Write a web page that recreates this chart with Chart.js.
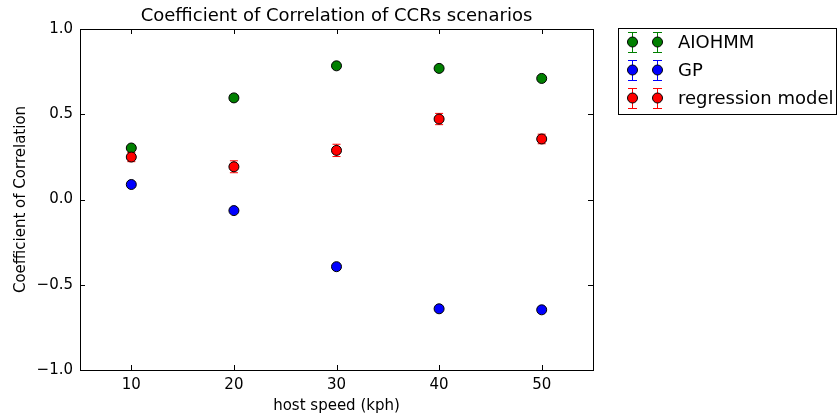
<!DOCTYPE html>
<html>
<head>
<meta charset="utf-8">
<script src="https://cdn.jsdelivr.net/npm/chart.js@4"></script>
<style>
  html, body { margin: 0; padding: 0; background: #fff; }
  #wrap { width: 838px; height: 419px; }
</style>
</head>
<body>
<div id="wrap"><canvas id="chart" width="838" height="419"></canvas></div>
<script>
// host speed (kph)
const speeds = [10, 20, 30, 40, 50];
const xTicks = [10, 20, 30, 40, 50];
const yTicks = [-1.0, -0.5, 0.0, 0.5, 1.0];

// correlation per model
const aiohmm = [0.302, 0.596, 0.784, 0.769, 0.710];
const aiohmmErr = [0.005, 0.005, 0.005, 0.005, 0.005];
const gp = [0.088, -0.065, -0.394, -0.641, -0.647];
const gpErr = [0.005, 0.005, 0.005, 0.005, 0.005];
const regression = [0.249, 0.192, 0.288, 0.472, 0.355];
const regressionErr = [0.027, 0.035, 0.036, 0.033, 0.028];

const seriesNames = ['AIOHMM', 'GP', 'regression model'];
const seriesColors = ['#008000', '#0000ff', '#ff0000'];

const FONT = "'DejaVu Sans', sans-serif";

function toPoints(values) {
    return speeds.map((s, i) => ({ x: s, y: values[i] }));
}

function fmtTick(v) {
    return v.toFixed(1).replace('-', '\u2212');
}

// error bars, frame, inside ticks, titles and legend
const decorations = {
    id: 'decorations',
    beforeDatasetsDraw(chart) {
        const ctx = chart.ctx;
        const yScale = chart.scales.y;
        const errs = [aiohmmErr, gpErr, regressionErr];
        chart.data.datasets.forEach((ds, di) => {
            const meta = chart.getDatasetMeta(di);
            ctx.save();
            ctx.strokeStyle = ds.backgroundColor;
            ctx.lineWidth = 1;
            meta.data.forEach((pt, i) => {
                const v = ds.data[i].y;
                const e = errs[di][i];
                const yTop = yScale.getPixelForValue(v + e);
                const yBot = yScale.getPixelForValue(v - e);
                ctx.beginPath();
                ctx.moveTo(pt.x, yTop);
                ctx.lineTo(pt.x, yBot);
                ctx.moveTo(pt.x - 4, yTop);
                ctx.lineTo(pt.x + 4, yTop);
                ctx.moveTo(pt.x - 4, yBot);
                ctx.lineTo(pt.x + 4, yBot);
                ctx.stroke();
            });
            ctx.restore();
        });
    },
    afterDraw(chart) {
        const ctx = chart.ctx;
        const area = chart.chartArea;
        const xs = chart.scales.x;
        const ys = chart.scales.y;
        ctx.save();
        ctx.strokeStyle = '#000';
        ctx.lineWidth = 1;
        // frame
        ctx.strokeRect(Math.round(area.left) + 0.5, Math.round(area.top) + 0.5,
            Math.round(area.right - area.left), Math.round(area.bottom - area.top));
        // inside ticks on all sides
        const tl = 5;
        ctx.beginPath();
        xTicks.forEach(t => {
            const px = Math.round(xs.getPixelForValue(t)) + 0.5;
            ctx.moveTo(px, area.bottom);
            ctx.lineTo(px, area.bottom - tl);
            ctx.moveTo(px, area.top);
            ctx.lineTo(px, area.top + tl);
        });
        yTicks.forEach(t => {
            const py = Math.round(ys.getPixelForValue(t)) + 0.5;
            ctx.moveTo(area.left, py);
            ctx.lineTo(area.left + tl, py);
            ctx.moveTo(area.right, py);
            ctx.lineTo(area.right - tl, py);
        });
        ctx.stroke();

        // title and axis titles
        ctx.fillStyle = '#000';
        ctx.textAlign = 'center';
        ctx.textBaseline = 'alphabetic';
        ctx.font = '18px ' + FONT;
        ctx.fillText('Coefficient of Correlation of CCRs scenarios', (area.left + area.right) / 2, 21);
        ctx.font = '15px ' + FONT;
        ctx.textBaseline = 'middle';
        ctx.fillText('host speed (kph)', (area.left + area.right) / 2, 406);
        ctx.save();
        ctx.translate(21, (area.top + area.bottom) / 2);
        ctx.rotate(-Math.PI / 2);
        ctx.fillText('Coefficient of Correlation', 0, 0);
        ctx.restore();

        // legend
        ctx.strokeStyle = '#000';
        ctx.lineWidth = 1;
        ctx.strokeRect(618.5, 28.5, 218, 86);
        const rows = [42, 70, 98];
        seriesNames.forEach((name, i) => {
            const y = rows[i];
            [632, 657].forEach(mx => {
                ctx.strokeStyle = seriesColors[i];
                ctx.beginPath();
                ctx.moveTo(mx + 0.5, y - 10);
                ctx.lineTo(mx + 0.5, y + 10);
                ctx.moveTo(mx - 4, y - 10 + 0.5);
                ctx.lineTo(mx + 5, y - 10 + 0.5);
                ctx.moveTo(mx - 4, y + 10 + 0.5);
                ctx.lineTo(mx + 5, y + 10 + 0.5);
                ctx.stroke();
                ctx.beginPath();
                ctx.arc(mx + 0.5, y, 5, 0, Math.PI * 2);
                ctx.fillStyle = seriesColors[i];
                ctx.fill();
                ctx.strokeStyle = '#000';
                ctx.stroke();
            });
            ctx.fillStyle = '#000';
            ctx.textAlign = 'left';
            ctx.textBaseline = 'middle';
            ctx.font = '18px ' + FONT;
            ctx.fillText(name, 678, y + 1);
        });
        ctx.restore();
    }
};

const datasets = [aiohmm, gp, regression].map((vals, i) => ({
    label: seriesNames[i],
    data: toPoints(vals),
    backgroundColor: seriesColors[i],
    borderColor: '#000',
    borderWidth: 1,
    pointRadius: 5,
    pointHoverRadius: 5,
    order: 3 - i
}));

new Chart(document.getElementById('chart'), {
    type: 'scatter',
    data: { datasets: datasets },
    options: {
        responsive: false,
        animation: false,
        layout: { padding: { left: 0, top: 29, right: 245, bottom: 0 } },
        plugins: {
            legend: { display: false },
            title: { display: false },
            tooltip: { enabled: false }
        },
        scales: {
            x: {
                type: 'linear',
                min: 5,
                max: 55,
                afterBuildTicks: scale => { scale.ticks = xTicks.map(v => ({ value: v })); },
                afterFit: scale => { scale.height = 49; },
                grid: { display: false, drawTicks: false },
                border: { display: false },
                ticks: {
                    color: '#000',
                    padding: 6,
                    maxRotation: 0,
                    font: { family: FONT, size: 15 },
                    callback: v => String(v)
                }
            },
            y: {
                type: 'linear',
                min: -1,
                max: 1,
                afterBuildTicks: scale => { scale.ticks = yTicks.map(v => ({ value: v })); },
                afterFit: scale => { scale.width = 80; },
                grid: { display: false, drawTicks: false },
                border: { display: false },
                ticks: {
                    color: '#000',
                    padding: 7,
                    font: { family: FONT, size: 15 },
                    callback: v => fmtTick(v)
                }
            }
        }
    },
    plugins: [decorations]
});
</script>
</body>
</html>
